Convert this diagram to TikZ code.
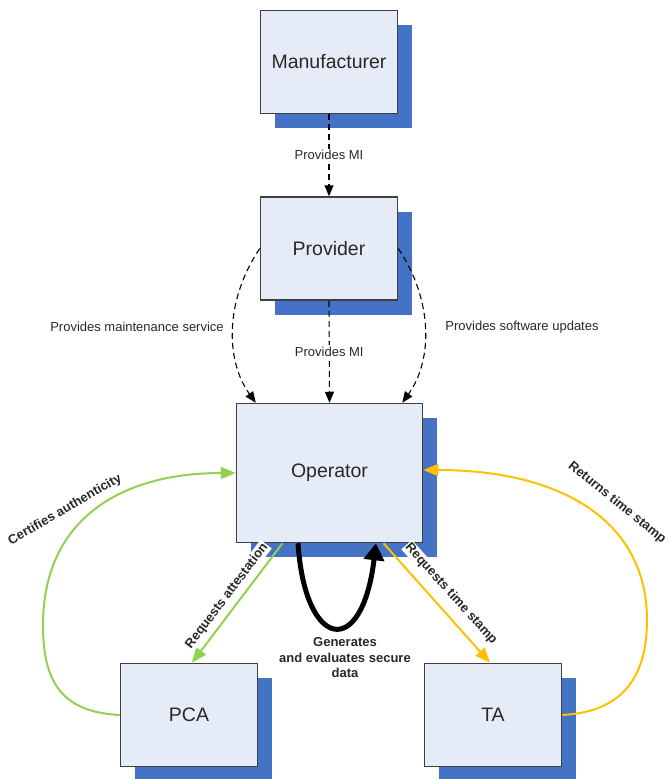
\documentclass[tikz,border=0pt]{standalone}
\usepackage{fontspec}
\setmainfont{Liberation Sans}
\usetikzlibrary{arrows.meta,shadows}

\definecolor{boxfill}{RGB}{230,236,247}
\definecolor{boxline}{RGB}{64,64,64}
\definecolor{shadowblue}{RGB}{68,114,196}
\definecolor{certgreen}{RGB}{146,208,80}
\definecolor{stamporange}{RGB}{255,192,0}
\definecolor{labeltext}{RGB}{40,40,40}

\begin{document}
\begin{tikzpicture}[x=1pt,y=-1pt,
  entity/.style={draw=boxline, line width=1.5pt, fill=boxfill,
    minimum width=137pt, minimum height=103pt, inner sep=0pt,
    text=labeltext, font=\fontsize{19.5}{23}\selectfont,
    drop shadow={shadow xshift=14.5pt, shadow yshift=-14.5pt,
      fill=shadowblue, opacity=1}},
  flowlabel/.style={font=\fontsize{13}{15}\selectfont, text=labeltext,
    fill=white, inner sep=1.5pt},
  boldlabel/.style={font=\bfseries\fontsize{13}{15.5}\selectfont,
    text=labeltext, inner sep=1pt},
  supply/.style={draw=black, line width=1.1pt, dash pattern=on 6pt off 4pt,
    -{Triangle[length=11pt,width=9pt]}},
  greenflow/.style={draw=certgreen, line width=2pt,
    -{Triangle[length=15pt,width=12pt]}},
  orangeflow/.style={draw=stamporange, line width=2pt,
    -{Triangle[length=15pt,width=12pt]}},
  loopflow/.style={draw=black, line width=5pt,
    -{Triangle[length=17pt,width=20pt]}}
]
\useasboundingbox (0,0) rectangle (669,779);

% parties
\node[entity] (man) at (329,62) {Manufacturer};
\node[entity] (prov) at (329,248.5) {Provider};
\node[entity, minimum width=186pt, minimum height=139pt] (op) at (329.5,473) {Operator};
\node[entity] (pca) at (189,715) {PCA};
\node[entity] (ta) at (493,715) {TA};

% supply chain (dashed)
\draw[supply] (man.south) -- node[flowlabel] {Provides MI} (prov.north);
\draw[supply] (prov.south) -- node[flowlabel] {Provides MI} (op.north);
\draw[supply] (prov.west) .. controls (225,300) and (225,360) .. ([xshift=20pt]op.north west);
\draw[supply] (prov.east) .. controls (433,300) and (433,360) .. ([xshift=-21pt]op.north east);
\node[flowlabel] (maint) at (137,327) {Provides maintenance service};
\node[flowlabel] (updates) at (522,327) {Provides software updates};

% attestation (green)
\draw[greenflow] ([xshift=-47pt]op.south) -- ([xshift=3pt]pca.north);
\draw[greenflow] (pca.west) .. controls (60,712) and (43,680) .. (43,625)
  .. controls (43,520) and (120,473) .. (op.west);
\node[boldlabel, fill=white, rotate=53] (reqatt) at (227,596) {Requests attestation};
\node[boldlabel, rotate=30] (certify) at (65,510) {Certifies authenticity};

% time stamping (orange)
\draw[orangeflow] ([xshift=54pt]op.south) -- ([xshift=-3pt]ta.north);
\draw[orangeflow] (ta.east) .. controls (620,712) and (647,680) .. (647,620)
  .. controls (647,520) and (560,470) .. ([yshift=3pt]op.east);
\node[boldlabel, fill=white, rotate=-48] (reqts) at (451,594) {Requests time stamp};
\node[boldlabel, rotate=-39] (retts) at (617,503) {Returns time stamp};

% internal processing loop
\draw[loopflow] ([xshift=-31.5pt]op.south) .. controls (305,650) and (362,660) .. ([xshift=46.5pt]op.south);
\node[boldlabel, align=center] (gen) at (345,658) {Generates\\and evaluates secure\\data};
\end{tikzpicture}
\end{document}
